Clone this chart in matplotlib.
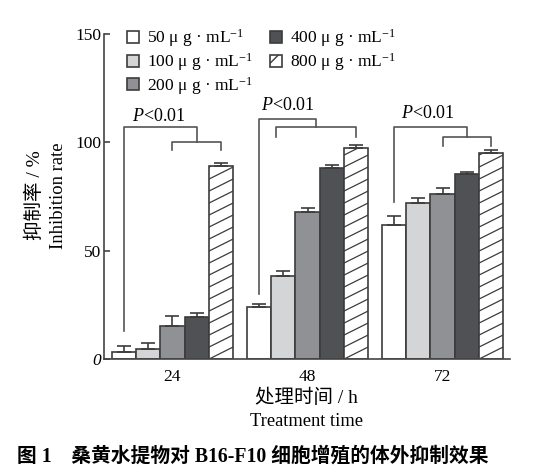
import matplotlib
matplotlib.use('Agg')
import matplotlib.pyplot as plt
from matplotlib.patches import Patch
import numpy as np

plt.rcParams['font.family'] = ['Liberation Serif', 'Noto Sans CJK SC']
plt.rcParams['mathtext.fontset'] = 'custom'
plt.rcParams['mathtext.rm'] = 'Liberation Serif'
plt.rcParams['mathtext.it'] = 'Liberation Serif:italic'
plt.rcParams['hatch.linewidth'] = 1.0

# data
times = ['24', '48', '72']
conc_labels = ['50 μ g · mL$^{-1}$', '100 μ g · mL$^{-1}$', '200 μ g · mL$^{-1}$',
               '400 μ g · mL$^{-1}$', '800 μ g · mL$^{-1}$']
rate_50 = [3.2, 24.2, 61.8]
rate_100 = [4.7, 38.5, 72.0]
rate_200 = [15.5, 67.7, 76.4]
rate_400 = [19.3, 88.2, 85.5]
rate_800 = [89.0, 97.6, 95.3]
err_50 = [3.1, 1.3, 4.5]
err_100 = [2.9, 2.4, 2.6]
err_200 = [4.6, 2.1, 2.6]
err_400 = [2.2, 1.4, 0.7]
err_800 = [1.7, 1.4, 1.4]

# significance brackets: inner bracket left bar index, levels
inner_left_bar = [2, 0.67, 2]
outer_top = [107.1, 111.0, 107.1]
inner_top = [100.2, 107.1, 102.5]
outer_leg_bottom = [13.2, 30.3, 72.6]
inner_leg_bottom = [96.4, 102.5, 98.5]
p_text = ['$P$<0.01'] * 3
p_dx = [-0.098, -0.144, -0.109]
p_y = [112.0, 117.1, 113.3]

rates = [rate_50, rate_100, rate_200, rate_400, rate_800]
errs = [err_50, err_100, err_200, err_400, err_800]
colors = ['white', '#d4d5d7', '#909195', '#505155', 'white']
edge = '#3c3c3c'

fig = plt.figure(figsize=(5.54, 4.76), dpi=100)
ax = fig.add_axes([0.1883, 0.2452, 0.7323, 0.6834])

w = 0.178
x = np.arange(len(times))
bars = []
for j in range(5):
    pos = x + (j - 2) * w
    b = ax.bar(pos, rates[j], width=w, color=colors[j], edgecolor=edge,
               linewidth=1.2, zorder=2)
    ax.errorbar(pos, rates[j], yerr=[np.zeros(3), errs[j]], fmt='none',
                ecolor=edge, elinewidth=1.2, capsize=4.7, capthick=1.2, zorder=3)
    bars.append(b)

# slanted hatch for the 800 bars, drawn in pixel proportions
ax.set_xlim(-0.505, 2.5)
ax.set_ylim(0, 150)
fig.canvas.draw()
px_x = ax.transData.transform((1, 0))[0] - ax.transData.transform((0, 0))[0]
px_y = ax.transData.transform((0, 1))[1] - ax.transData.transform((0, 0))[1]
slope = 0.5
spacing = 12.0
for rect in bars[4]:
    x0, wd, h = rect.get_x(), rect.get_width(), rect.get_height()
    rise = slope * wd * px_x / px_y
    step = spacing / px_y
    for y0 in np.arange(-rise, h + step, step):
        ln, = ax.plot([x0, x0 + wd], [y0, y0 + rise], color=edge,
                      linewidth=0.9, zorder=2.5)
        ln.set_clip_path(rect)

# brackets
for i in range(3):
    bx0 = x[i] - 2 * w
    ix0 = x[i] + (inner_left_bar[i] - 2) * w
    ix1 = x[i] + 2 * w
    mid = (ix0 + ix1) / 2
    ax.plot([bx0, bx0, mid, mid], [outer_leg_bottom[i], outer_top[i], outer_top[i], inner_top[i]],
            color='#555555', linewidth=1.2, zorder=4)
    ax.plot([ix0, ix0, ix1, ix1], [inner_leg_bottom[i], inner_top[i], inner_top[i], inner_leg_bottom[i]],
            color='#555555', linewidth=1.2, zorder=4)
    ax.text(x[i] + p_dx[i], p_y[i], p_text[i], ha='center', va='center', fontsize=13)

ax.spines['top'].set_visible(False)
ax.spines['right'].set_visible(False)
for s in ['left', 'bottom']:
    ax.spines[s].set_linewidth(1.2)
    ax.spines[s].set_color('#444444')
ax.set_yticks([0, 50, 100, 150])
ax.set_xticks(x)
ax.set_xticklabels(times)
ax.tick_params(axis='y', direction='in', length=4, width=1.2, color='#444444',
               labelsize=12.5, pad=2)
ax.tick_params(axis='x', length=0, labelsize=12.5, pad=7)
ax.get_yticklabels()[0].set_style('italic')

hatch_proxy = Patch(facecolor='white', edgecolor=edge, hatch='//', linewidth=1.2)
handles = [bars[0], bars[1], bars[2], bars[3], hatch_proxy]
leg = ax.legend(handles, conc_labels, ncol=2, loc='upper left', bbox_to_anchor=(0.055, 1.02),
                frameon=False, fontsize=12.5, handlelength=0.7, handleheight=0.7,
                handletextpad=0.45, labelspacing=0.1, columnspacing=1.0, borderpad=0,
                borderaxespad=0)

fig.text(35 / 554, 0.590, '抑制率 / %', rotation=90, ha='center', va='center', fontsize=14)
fig.text(58.3 / 554, 0.588, 'Inhibition rate', rotation=90, ha='center', va='center', fontsize=13.4)
fig.text(0.554, 1 - 398 / 476, '处理时间 / h', ha='center', va='center', fontsize=14)
fig.text(0.554, 1 - 421.7 / 476, 'Treatment time', ha='center', va='center', fontsize=13.3)
fig.text(17 / 554, 1 - 457 / 476, '图 1　桑黄水提物对 B16-F10 细胞增殖的体外抑制效果',
         ha='left', va='center', fontsize=14.2, fontweight='bold')

fig.savefig('out.png', dpi=100)
